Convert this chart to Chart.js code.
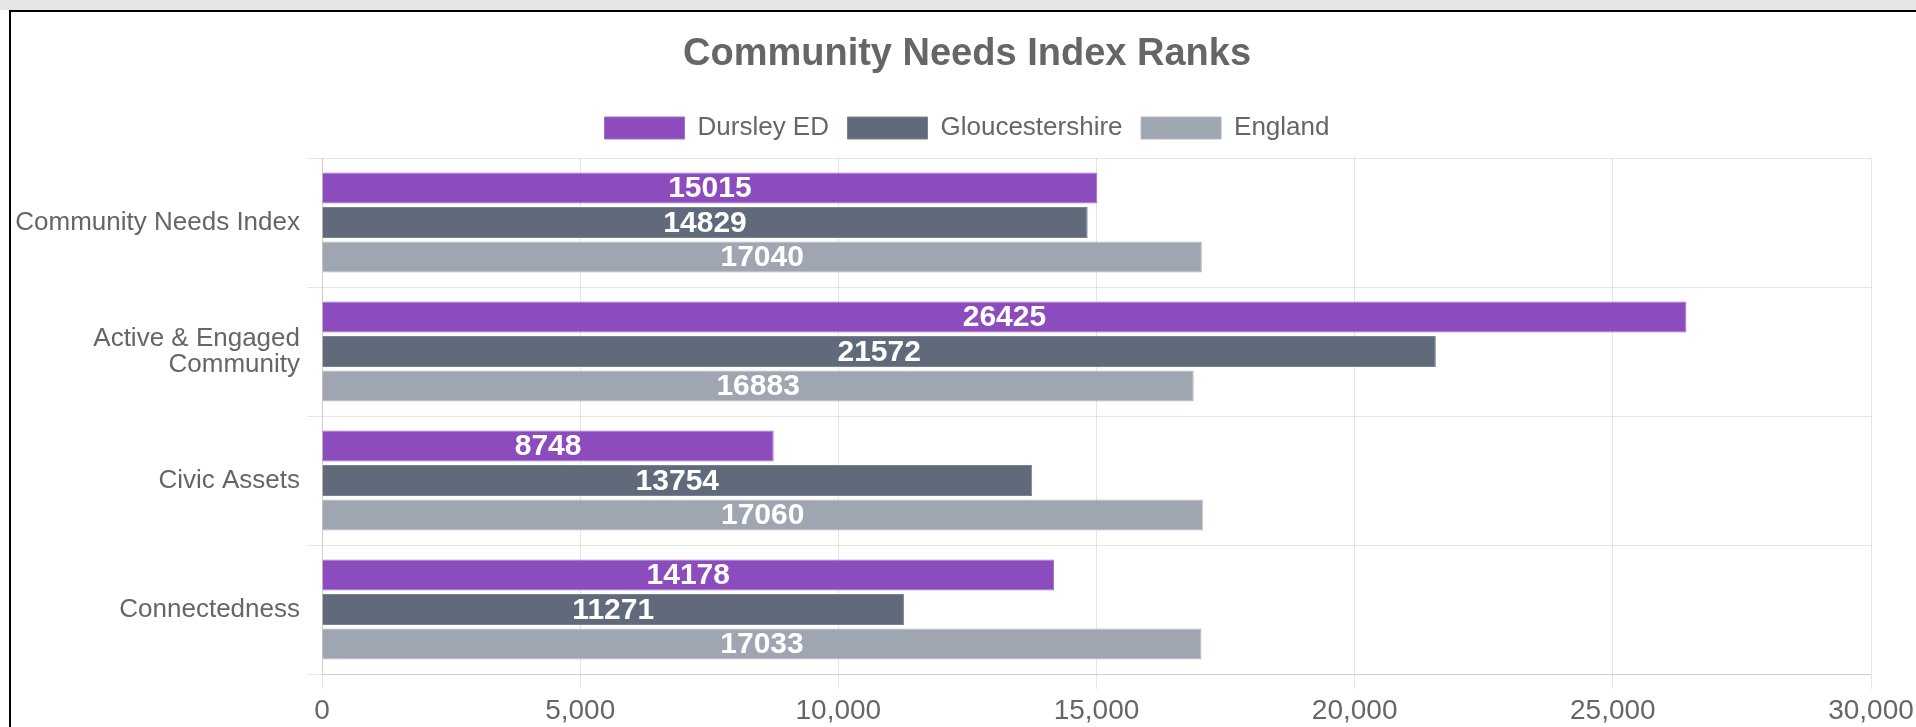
<!DOCTYPE html>
<html><head><meta charset="utf-8">
<script src="https://cdn.jsdelivr.net/npm/chart.js@4.4.0/dist/chart.umd.min.js"></script>
<style>
html,body{margin:0;padding:0;overflow:hidden;background:#fff;width:1916px;height:727px;}
#topbar{position:absolute;left:0;top:0;width:1916px;height:10px;background:#e5e5e5;}
#frame{position:absolute;left:9px;top:10px;width:2000px;height:800px;border-left:2px solid #000;border-top:2px solid #000;}
#wrap{position:absolute;left:11px;top:12px;width:1912px;height:715px;}
</style></head><body>
<div id="topbar"></div><div id="frame"></div>
<div id="wrap"><canvas id="c"></canvas></div>
<script>
const categories = [['Community Needs Index'], ['Active & Engaged', 'Community'], ['Civic Assets'], ['Connectedness']];
const seriesNames = ['Dursley ED', 'Gloucestershire', 'England'];
const dursleyED = [15015, 26425, 8748, 14178];
const gloucestershire = [14829, 21572, 13754, 11271];
const england = [17040, 16883, 17060, 17033];
const xTickValues = [0, 5000, 10000, 15000, 20000, 25000, 30000];
const chartTitle = 'Community Needs Index Ranks';

const FONT = 'Arial, "Liberation Sans", sans-serif';
const fills = ['#8d4cbd', '#606a7b', '#9fa5b1'];
const borders = ['#a070c8', '#7a8392', '#b3b8c2'];

const valueLabels = {
  id: 'valueLabels',
  afterDatasetsDraw(chart) {
    const ctx = chart.ctx;
    ctx.save();
    ctx.font = 'bold 30px ' + FONT;
    ctx.fillStyle = '#ffffff';
    ctx.textAlign = 'center';
    ctx.textBaseline = 'middle';
    chart.data.datasets.forEach((ds, i) => {
      const meta = chart.getDatasetMeta(i);
      meta.data.forEach((bar, j) => {
        const p = bar.getProps(['x', 'y', 'base'], true);
        ctx.fillText(String(ds.data[j]), (p.x + p.base) / 2, p.y + 1);
      });
    });
    ctx.restore();
  }
};

const legendGap = {
  id: 'legendGap',
  beforeUpdate(chart) {
    const lg = chart.legend;
    if (lg && !lg._gapPatched) {
      const f = lg.fit;
      lg.fit = function () { f.call(this); this.height += 7; };
      lg._gapPatched = true;
    }
  }
};

const seriesData = [dursleyED, gloucestershire, england];

new Chart(document.getElementById('c'), {
  type: 'bar',
  data: {
    labels: categories,
    datasets: seriesNames.map((name, i) => ({
      label: name,
      data: seriesData[i],
      backgroundColor: fills[i],
      borderColor: borders[i],
      borderWidth: 1
    }))
  },
  options: {
    indexAxis: 'y',
    responsive: true,
    maintainAspectRatio: false,
    animation: false,
    layout: { padding: 0 },
    plugins: {
      title: {
        display: true,
        text: chartTitle,
        color: '#666',
        font: { family: FONT, size: 38, weight: 'bold' },
        padding: { top: 19.5, bottom: 19.4 }
      },
      legend: {
        display: true,
        position: 'top',
        labels: {
          color: '#666',
          font: { family: FONT, size: 26 },
          boxWidth: 80,
          boxHeight: 22,
          padding: 18.5
        }
      },
      tooltip: { enabled: false }
    },
    scales: {
      x: {
        min: 0,
        max: 30000,
        afterBuildTicks(scale) { scale.ticks = xTickValues.map(v => ({ value: v })); },
        ticks: {
          color: '#666',
          font: { family: FONT, size: 28 },
          padding: 5,
          callback: v => Number(v).toLocaleString('en-US')
        },
        grid: { color: 'rgba(0,0,0,0.1)', tickLength: 15 },
        border: { color: 'rgba(0,0,0,0.1)' },
        afterFit(s) { s.height = 53; s.paddingRight = 52; }
      },
      y: {
        ticks: {
          color: '#666',
          font: { family: FONT, size: 26, lineHeight: 1.0 },
          padding: 7
        },
        grid: { color: 'rgba(0,0,0,0.1)', tickLength: 15 },
        border: { color: 'rgba(0,0,0,0.1)' },
        afterFit(s) { s.width = 311; }
      }
    }
  },
  plugins: [valueLabels, legendGap]
});
</script>
</body></html>
